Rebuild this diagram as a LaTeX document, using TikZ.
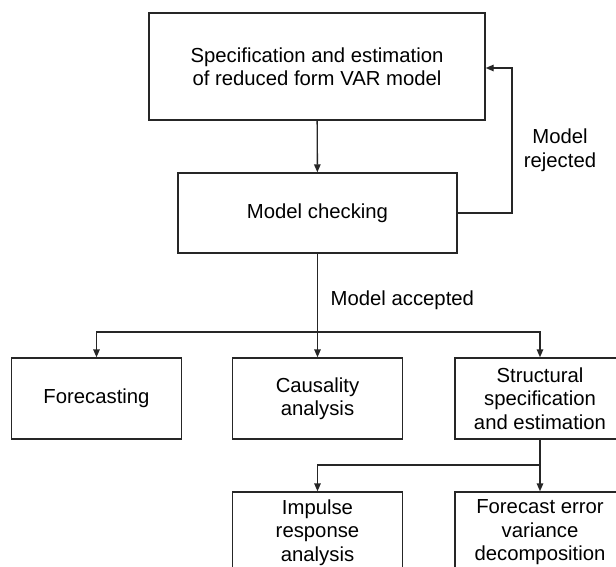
\documentclass[tikz,border=0pt]{standalone}
\usepackage{fontspec}
\setmainfont{Liberation Sans}
\usetikzlibrary{arrows.meta}

\tikzset{
	box/.style={draw, rectangle, minimum width=170pt, minimum height=81pt, align=center, inner sep=0pt},
	flow/.style={-{Triangle[length=8pt,width=6.5pt]}},
}

\begin{document}
\begin{tikzpicture}[x=1pt, y=-1pt, line width=1.4pt, draw=black!85, font=\fontsize{20.3pt}{23.5pt}\selectfont]
		\clip (0,0) rectangle (616,567);
		\fill[white] (0,0) rectangle (616,567);
		
		\node[box, minimum width=336pt, minimum height=107pt] (spec) at (317,66.5) {Specification and estimation\\of reduced form VAR model};
		\node[box, minimum width=279pt, minimum height=80pt] (check) at (317.5,213) {Model checking};
		\node[box] (fore) at (96.5,398.5) {Forecasting};
		\node[box] (caus) at (317.5,398.5) {Causality\\analysis};
		\node[box] (struc) at (540,398.5) {Structural\\specification\\and estimation};
		\node[box] (imp) at (317.5,532.5) {Impulse\\response\\analysis};
		\node[box] (fev) at (540,532.5) {Forecast error\\variance\\decomposition};
		
		\node[align=center, inner sep=0pt] (rejtext) at (560,150.5) {Model\\rejected};
		\node[anchor=west, inner sep=0pt] (acctext) at (330,300) {Model accepted};
		
		\coordinate (rej) at (512,68);
		\coordinate (split) at (317.5,332);
		\coordinate (split2) at (540,465);
		
		\draw[flow] (spec) to (check);
		\draw[flow] (check.east) -| (rej) -- (rej -| spec.east);
		\draw[flow] (check) to (caus);
		\draw[flow] (split) -| (fore.north);
		\draw[flow] (split) -| (struc.north);
		\draw (struc) to (split2);
		\draw[flow] (split2) to (fev);
		\draw[flow] (split2) -| (imp.north);
		
	\end{tikzpicture}
\end{document}
